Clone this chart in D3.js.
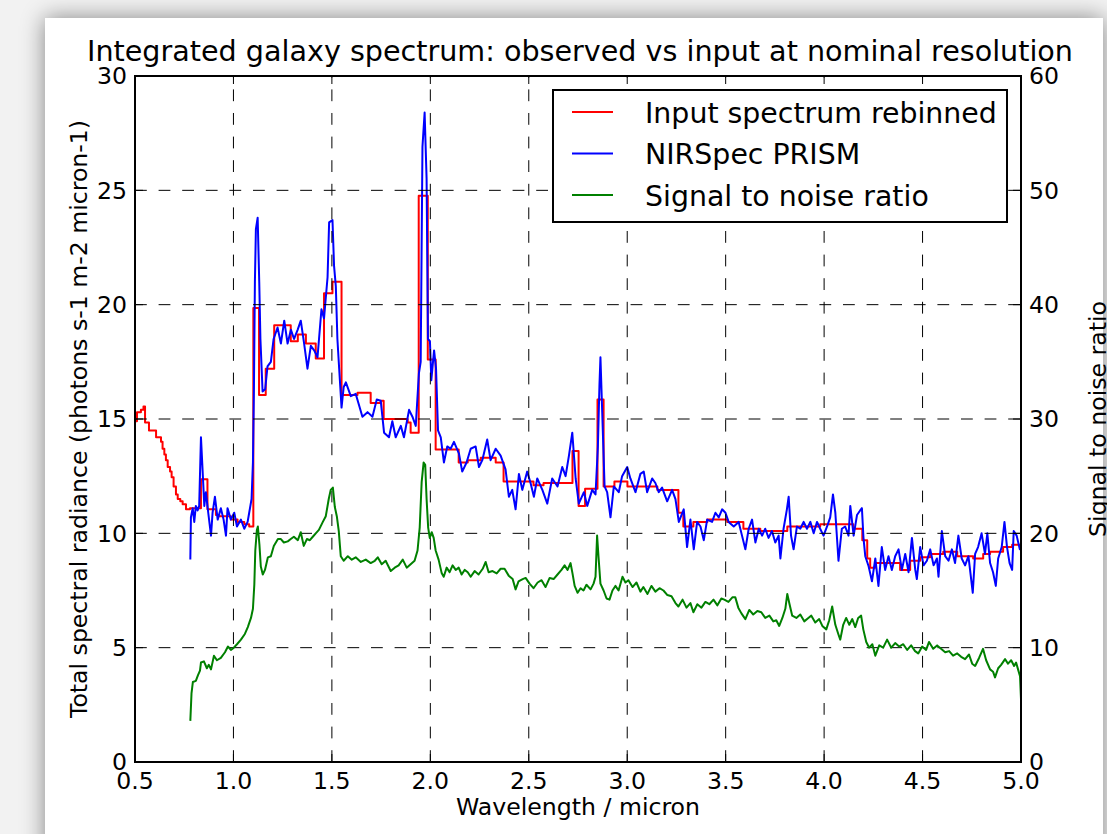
<!DOCTYPE html>
<html>
<head>
<meta charset="utf-8">
<script src="https://cdn.jsdelivr.net/npm/d3@7"></script>
<style>
body { margin: 0; width: 1107px; height: 834px; overflow: hidden; position: relative; background: #f2f2f2; font-family: "DejaVu Sans", sans-serif; }
#panel { position: absolute; left: 45px; top: 18px; width: 1058px; height: 840px; background: #fff; box-shadow: 0 0 22px rgba(0,0,0,0.45); }
#chart { position: absolute; left: 0; top: 0; }
</style>
</head>
<body>
<div id="panel"></div>
<div id="chart"></div>
<script>
// input spectrum rebinned (step, value holds until next wavelength)
var redWave = [0.500,0.510,0.530,0.543,0.551,0.571,0.607,0.632,0.640,0.649,
    0.657,0.666,0.678,0.686,0.696,0.708,0.717,0.730,0.742,0.759,
    0.779,0.835,0.868,0.911,0.928,0.987,1.021,1.055,1.080,1.101,
    1.130,1.164,1.207,1.291,1.327,1.368,1.418,1.460,1.503,1.549,
    1.630,1.697,1.748,1.763,1.885,1.900,1.941,1.987,2.027,2.144,
    2.190,2.256,2.332,2.372,2.524,2.575,2.722,2.753,2.786,2.849,
    2.880,2.935,3.001,3.153,3.260,3.285,3.336,3.407,3.508,3.590,
    3.676,3.813,3.980,4.148,4.194,4.219,4.234,4.259,4.386,4.437,
    4.488,4.539,4.605,4.676,4.757,4.808,4.843,4.909,4.955,5.000];
var redFlux = [14.9,15.3,15.4,15.55,14.85,14.5,14.2,14.0,13.7,13.45,
    13.2,12.9,12.7,12.45,12.05,11.7,11.5,11.4,11.27,11.05,
    11.1,12.36,11.05,10.8,10.75,10.6,10.5,10.4,10.3,19.85,
    16.05,17.2,19.1,18.4,18.7,18.3,17.65,20.5,21.0,16.05,
    16.15,15.7,15.8,15.0,14.85,14.4,24.76,17.6,13.67,13.1,
    13.2,13.3,13.1,12.27,12.1,12.2,13.6,11.2,11.95,15.85,
    12.05,12.27,12.05,11.9,10.9,10.3,10.5,10.6,10.5,10.2,
    10.1,10.3,10.4,10.2,9.7,8.9,8.5,8.7,8.4,8.8,
    8.95,9.1,9.2,9.0,8.9,9.1,9.2,9.4,9.5,9.5];

// NIRSpec PRISM
var blueWave = [0.781,0.784,0.793,0.801,0.809,0.818,0.826,0.835,0.843,0.852,
    0.860,0.872,0.886,0.894,0.906,0.920,0.936,0.950,0.962,0.970,
    0.987,1.004,1.018,1.038,1.055,1.072,1.080,1.092,1.099,1.104,
    1.109,1.114,1.123,1.131,1.137,1.148,1.161,1.173,1.190,1.204,
    1.224,1.241,1.258,1.275,1.292,1.308,1.326,1.342,1.359,1.376,
    1.393,1.410,1.427,1.447,1.460,1.478,1.486,1.503,1.511,1.520,
    1.528,1.537,1.549,1.560,1.571,1.596,1.621,1.638,1.655,1.681,
    1.706,1.728,1.748,1.765,1.790,1.807,1.824,1.850,1.866,1.892,
    1.909,1.926,1.942,1.951,1.960,1.971,1.981,1.988,1.998,2.005,
    2.019,2.029,2.039,2.053,2.069,2.086,2.103,2.120,2.145,2.162,
    2.184,2.205,2.230,2.247,2.264,2.289,2.306,2.332,2.357,2.382,
    2.399,2.416,2.433,2.450,2.467,2.492,2.509,2.526,2.543,2.569,
    2.594,2.619,2.646,2.670,2.687,2.704,2.721,2.738,2.754,2.780,
    2.797,2.822,2.839,2.851,2.859,2.864,2.873,2.885,2.898,2.915,
    2.932,2.957,2.974,3.000,3.016,3.042,3.067,3.084,3.101,3.127,
    3.143,3.160,3.177,3.203,3.228,3.245,3.262,3.287,3.304,3.321,
    3.338,3.355,3.372,3.389,3.406,3.431,3.448,3.465,3.482,3.499,
    3.515,3.541,3.566,3.583,3.600,3.617,3.634,3.651,3.668,3.685,
    3.701,3.718,3.735,3.752,3.769,3.778,3.794,3.811,3.820,3.832,
    3.845,3.862,3.879,3.896,3.913,3.930,3.947,3.964,3.980,3.997,
    4.015,4.031,4.045,4.057,4.073,4.090,4.107,4.124,4.133,4.150,
    4.167,4.183,4.192,4.200,4.209,4.226,4.243,4.260,4.276,4.293,
    4.310,4.327,4.344,4.361,4.378,4.395,4.412,4.429,4.446,4.463,
    4.471,4.488,4.505,4.522,4.539,4.556,4.573,4.581,4.598,4.615,
    4.632,4.649,4.665,4.682,4.699,4.716,4.733,4.755,4.767,4.782,
    4.800,4.817,4.829,4.843,4.858,4.872,4.884,4.902,4.916,4.929,
    4.942,4.955,4.963,4.978,4.994,5.000];
var blueFlux = [8.86,10.7,11.1,10.5,11.2,11.0,11.2,14.2,12.8,11.2,
    11.8,10.9,9.9,10.9,11.6,10.6,11.1,10.6,9.9,11.1,
    10.6,10.9,10.3,10.6,10.2,10.5,10.9,11.5,13.1,16.3,
    21.0,23.3,23.8,21.0,18.5,16.2,16.3,17.3,17.5,18.5,
    19.0,18.3,19.3,18.3,18.9,18.5,18.9,19.3,18.3,17.2,
    18.2,18.0,17.7,19.8,19.4,21.2,23.6,23.7,21.7,20.8,
    18.5,17.2,15.5,16.4,16.6,16.0,16.1,15.6,15.1,15.3,
    15.1,15.85,15.8,14.4,14.2,14.9,14.2,14.7,14.2,15.4,
    15.1,14.7,17.0,17.5,26.9,28.4,25.5,18.5,18.4,16.7,
    18.0,17.2,14.5,14.2,13.1,13.8,13.7,14.0,13.5,12.7,
    13.1,13.7,13.8,12.9,13.2,14.1,13.2,13.7,13.4,12.8,
    11.6,11.9,11.05,12.6,11.9,12.7,12.2,11.6,12.4,11.9,
    11.3,12.4,12.05,12.9,12.5,13.4,14.4,12.4,11.3,11.8,
    11.2,11.9,11.7,13.8,16.5,17.7,15.3,12.05,11.8,10.7,
    12.05,11.8,12.5,12.9,12.4,11.8,12.6,12.7,11.8,12.4,
    12.2,11.8,12.0,11.4,11.9,11.5,10.5,11.05,9.4,10.6,
    9.3,10.5,10.3,9.7,10.6,10.5,10.9,10.7,11.05,10.9,
    10.5,10.3,10.5,9.9,9.3,10.2,10.6,9.6,10.2,9.9,
    10.2,9.8,10.1,9.6,9.9,8.9,10.2,11.05,11.6,9.9,
    9.3,10.3,10.2,10.5,10.2,10.5,10.0,10.5,10.2,9.9,
    10.3,10.7,11.7,10.9,8.8,10.2,10.3,9.9,11.2,9.9,
    10.8,11.0,11.1,9.8,9.0,8.56,7.9,8.9,7.7,9.4,
    8.4,9.0,8.4,9.0,9.3,8.4,9.1,8.3,9.8,8.4,
    8.0,9.4,8.6,8.8,9.3,8.6,8.9,8.1,10.1,9.0,
    8.8,9.3,8.7,9.9,8.9,8.6,9.0,7.4,9.1,9.4,
    10.0,9.1,10.0,8.7,8.3,7.7,8.9,9.4,10.5,9.4,
    8.7,8.4,10.1,9.9,9.3,9.4];

// signal to noise ratio (right axis)
var snrWave = [0.781,0.787,0.794,0.809,0.820,0.830,0.835,0.850,0.865,0.875,
    0.886,0.901,0.916,0.936,0.957,0.972,0.987,1.002,1.018,1.038,
    1.058,1.073,1.089,1.099,1.106,1.111,1.119,1.124,1.132,1.139,
    1.149,1.160,1.175,1.190,1.205,1.226,1.241,1.256,1.276,1.291,
    1.307,1.327,1.342,1.357,1.373,1.388,1.403,1.418,1.434,1.454,
    1.469,1.484,1.494,1.505,1.515,1.525,1.535,1.545,1.560,1.581,
    1.601,1.621,1.647,1.672,1.697,1.718,1.733,1.753,1.773,1.799,
    1.819,1.839,1.860,1.880,1.900,1.920,1.935,1.946,1.956,1.966,
    1.974,1.981,1.989,1.997,2.007,2.017,2.027,2.042,2.058,2.068,
    2.083,2.098,2.113,2.129,2.144,2.159,2.174,2.190,2.205,2.225,
    2.245,2.266,2.281,2.296,2.316,2.337,2.357,2.377,2.398,2.418,
    2.433,2.448,2.469,2.484,2.504,2.524,2.545,2.565,2.585,2.606,
    2.626,2.646,2.666,2.682,2.697,2.712,2.722,2.733,2.748,2.763,
    2.778,2.793,2.814,2.829,2.839,2.847,2.854,2.864,2.880,2.895,
    2.910,2.925,2.940,2.956,2.976,2.991,3.006,3.027,3.047,3.067,
    3.082,3.103,3.123,3.143,3.164,3.184,3.204,3.225,3.245,3.260,
    3.281,3.301,3.321,3.336,3.356,3.377,3.397,3.417,3.438,3.458,
    3.478,3.493,3.514,3.534,3.549,3.564,3.580,3.600,3.620,3.640,
    3.661,3.681,3.701,3.722,3.742,3.757,3.772,3.788,3.803,3.813,
    3.823,3.838,3.859,3.879,3.899,3.920,3.935,3.955,3.975,3.991,
    4.011,4.026,4.041,4.057,4.072,4.082,4.097,4.112,4.128,4.143,
    4.158,4.173,4.188,4.199,4.214,4.229,4.245,4.260,4.280,4.300,
    4.320,4.341,4.361,4.381,4.402,4.422,4.442,4.462,4.478,4.498,
    4.518,4.533,4.554,4.574,4.594,4.615,4.635,4.655,4.676,4.696,
    4.716,4.736,4.752,4.767,4.787,4.807,4.823,4.843,4.858,4.868,
    4.884,4.899,4.919,4.934,4.950,4.965,4.975,4.985,4.995,5.000];
var snrValue = [3.6,6.0,7.0,7.1,7.6,8.0,8.7,8.8,8.2,8.5,
    8.1,9.3,8.9,9.1,9.6,10.1,9.8,10.0,10.3,10.7,
    11.2,11.8,12.6,13.4,15.5,18.5,20.3,20.6,19.0,17.1,
    16.4,16.8,17.9,18.0,18.9,19.5,19.5,19.2,19.3,19.5,
    19.7,19.4,20.1,18.9,19.5,19.4,19.7,20.0,20.3,21.0,
    21.5,23.0,23.8,24.0,22.3,21.5,20.2,18.0,17.6,18.0,
    17.7,17.9,17.5,17.7,17.4,17.6,17.9,17.3,17.6,16.7,
    17.0,17.2,17.7,17.0,17.3,17.6,18.5,20.5,24.5,26.2,
    26.0,23.0,20.5,19.6,20.1,19.6,18.5,17.7,16.5,16.2,
    17.0,16.6,17.2,16.8,17.0,16.4,16.8,16.6,16.2,16.7,
    16.4,16.9,17.5,16.6,16.7,16.5,16.9,16.9,16.3,16.0,
    15.1,15.8,16.0,16.1,15.6,15.2,15.7,15.9,15.3,16.1,
    16.0,16.4,16.8,17.2,16.8,17.4,16.5,15.4,14.8,15.2,
    15.0,15.5,15.1,15.6,16.2,19.8,18.0,15.6,15.0,14.3,
    14.2,15.0,15.4,15.0,16.2,15.7,15.9,15.3,15.7,14.9,
    15.3,14.7,15.4,14.9,15.2,15.0,14.6,14.5,13.9,13.6,
    14.2,13.5,13.9,13.1,13.8,13.5,14.0,13.8,14.2,13.7,
    14.3,14.2,14.0,14.4,14.4,13.5,13.0,12.5,13.3,12.9,
    13.2,13.1,12.6,12.8,12.3,12.4,11.9,12.6,13.4,14.7,
    13.9,12.8,12.6,12.9,12.3,12.6,12.8,12.2,12.5,11.9,
    11.6,12.4,13.6,12.0,11.2,10.7,12.0,12.6,12.0,12.5,
    11.8,12.6,12.8,11.6,10.5,10.0,10.3,9.3,10.2,10.0,
    10.7,10.0,10.4,10.1,10.3,9.8,10.2,9.7,9.5,10.1,
    9.8,10.5,9.9,10.2,9.9,9.6,9.7,9.3,9.5,9.2,
    9.0,9.4,8.6,8.4,9.1,9.9,8.9,8.1,7.9,7.4,
    8.2,8.5,9.0,8.6,8.9,8.4,8.7,8.1,7.5,5.5];

var xTicks = [0.5,1.0,1.5,2.0,2.5,3.0,3.5,4.0,4.5,5.0];
var yTicks = [0,5,10,15,20,25,30];
var y2Ticks = [0,10,20,30,40,50,60];

var legendLabels = ["Input spectrum rebinned", "NIRSpec PRISM", "Signal to noise ratio"];
var legendColors = ["#ff0000", "#0000ff", "#008000"];

var width  = 1107;
var height = 834;
var plot = {left: 135, right: 1021, top: 76, bottom: 762};

var x  = d3.scaleLinear().domain([0.5, 5.0]).range([plot.left, plot.right]);
var y  = d3.scaleLinear().domain([0, 30]).range([plot.bottom, plot.top]);
var y2 = d3.scaleLinear().domain([0, 60]).range([plot.bottom, plot.top]);

function pairs(xs, ys) {
    return xs.map(function(d, i) { return {x: d, y: ys[i]}; });
}

var svg = d3.select("#chart")
    .append("svg")
    .attr("width", width)
    .attr("height", height)
    .style("font-family", "'DejaVu Sans', sans-serif");

svg.append("defs").append("clipPath")
    .attr("id", "plotclip")
    .append("rect")
    .attr("x", plot.left)
    .attr("y", plot.top)
    .attr("width", plot.right - plot.left)
    .attr("height", plot.bottom - plot.top);

var lines = svg.append("g").attr("clip-path", "url(#plotclip)");

var stepLine = d3.line().curve(d3.curveStepAfter)
    .x(function(d) { return x(d.x); })
    .y(function(d) { return y(d.y); });

var fluxLine = d3.line()
    .x(function(d) { return x(d.x); })
    .y(function(d) { return y(d.y); });

var snrLine = d3.line()
    .x(function(d) { return x(d.x); })
    .y(function(d) { return y2(d.y); });

lines.append("path")
    .attr("d", stepLine(pairs(redWave, redFlux)))
    .attr("fill", "none")
    .attr("stroke", legendColors[0])
    .attr("stroke-width", 2)
    .attr("stroke-linejoin", "round");

lines.append("path")
    .attr("d", fluxLine(pairs(blueWave, blueFlux)))
    .attr("fill", "none")
    .attr("stroke", legendColors[1])
    .attr("stroke-width", 2)
    .attr("stroke-linejoin", "round");

// grid
var grid = svg.append("g")
    .attr("stroke", "#000")
    .attr("stroke-width", 1)
    .attr("stroke-dasharray", "11.8,11.8");

grid.selectAll(".vgrid")
    .data(xTicks)
    .enter().append("line")
    .attr("x1", function(d) { return x(d); })
    .attr("x2", function(d) { return x(d); })
    .attr("y1", plot.bottom)
    .attr("y2", plot.top);

grid.selectAll(".hgrid")
    .data(yTicks)
    .enter().append("line")
    .attr("x1", plot.left)
    .attr("x2", plot.right)
    .attr("y1", function(d) { return y(d); })
    .attr("y2", function(d) { return y(d); });

// twin axis line drawn above the first axis grid
var lines2 = svg.append("g").attr("clip-path", "url(#plotclip)");
lines2.append("path")
    .attr("d", snrLine(pairs(snrWave, snrValue)))
    .attr("fill", "none")
    .attr("stroke", legendColors[2])
    .attr("stroke-width", 2)
    .attr("stroke-linejoin", "round");

// ticks, inward
var ticks = svg.append("g").attr("stroke", "#000").attr("stroke-width", 1);
xTicks.forEach(function(d) {
    ticks.append("line").attr("x1", x(d)).attr("x2", x(d)).attr("y1", plot.bottom).attr("y2", plot.bottom - 8);
    ticks.append("line").attr("x1", x(d)).attr("x2", x(d)).attr("y1", plot.top).attr("y2", plot.top + 8);
});
yTicks.forEach(function(d) {
    ticks.append("line").attr("x1", plot.left).attr("x2", plot.left + 8).attr("y1", y(d)).attr("y2", y(d));
});
y2Ticks.forEach(function(d) {
    ticks.append("line").attr("x1", plot.right).attr("x2", plot.right - 8).attr("y1", y2(d)).attr("y2", y2(d));
});

svg.append("rect")
    .attr("x", plot.left)
    .attr("y", plot.top)
    .attr("width", plot.right - plot.left)
    .attr("height", plot.bottom - plot.top)
    .attr("fill", "none")
    .attr("stroke", "#000")
    .attr("stroke-width", 2);

var labels = svg.append("g").attr("fill", "#000").style("font-size", "23.6px");

labels.selectAll(".xl")
    .data(xTicks)
    .enter().append("text")
    .attr("x", function(d) { return x(d); })
    .attr("y", 789)
    .attr("text-anchor", "middle")
    .text(function(d) { return d3.format(".1f")(d); });

labels.selectAll(".yl")
    .data(yTicks)
    .enter().append("text")
    .attr("x", plot.left - 8)
    .attr("y", function(d) { return y(d); })
    .attr("dy", "0.36em")
    .attr("text-anchor", "end")
    .text(function(d) { return d; });

labels.selectAll(".y2l")
    .data(y2Ticks)
    .enter().append("text")
    .attr("x", plot.right + 8)
    .attr("y", function(d) { return y2(d); })
    .attr("dy", "0.36em")
    .attr("text-anchor", "start")
    .text(function(d) { return d; });

labels.append("text")
    .attr("x", (plot.left + plot.right) / 2)
    .attr("y", 815)
    .attr("text-anchor", "middle")
    .text("Wavelength / micron");

labels.append("text")
    .attr("transform", "translate(87," + ((plot.top + plot.bottom) / 2) + ") rotate(-90)")
    .attr("text-anchor", "middle")
    .text("Total spectral radiance (photons s-1 m-2 micron-1)");

labels.append("text")
    .attr("transform", "translate(1106," + ((plot.top + plot.bottom) / 2) + ") rotate(-90)")
    .attr("text-anchor", "middle")
    .text("Signal to noise ratio");

svg.append("text")
    .attr("x", (plot.left + plot.right) / 2 + 2)
    .attr("y", 61)
    .attr("text-anchor", "middle")
    .style("font-size", "28.6px")
    .text("Integrated galaxy spectrum: observed vs input at nominal resolution");

// legend
var legend = svg.append("g");
legend.append("rect")
    .attr("x", 553)
    .attr("y", 90)
    .attr("width", 454)
    .attr("height", 132)
    .attr("fill", "#fff")
    .attr("stroke", "#000")
    .attr("stroke-width", 2);

var item = legend.selectAll(".item")
    .data(legendLabels)
    .enter().append("g")
    .attr("transform", function(d, i) { return "translate(0," + (112 + i * 41.5) + ")"; });

item.append("line")
    .attr("x1", 572)
    .attr("x2", 613)
    .attr("stroke", function(d, i) { return legendColors[i]; })
    .attr("stroke-width", 2);

item.append("text")
    .attr("x", 645)
    .attr("y", 10.5)
    .style("font-size", "28.4px")
    .text(function(d) { return d; });
</script>
</body>
</html>
